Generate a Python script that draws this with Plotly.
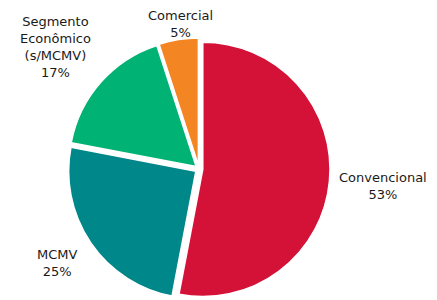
import plotly.graph_objects as go

labels = ["Convencional", "MCMV", "Segmento<br>Econômico<br>(s/MCMV)", "Comercial"]
values = [53, 25, 17, 5]
colors = ["#D41137", "#008789", "#00B273", "#F38623"]
pulls = [0.03, 0.03, 0.03, 0.03]

# The page body has an 8px default margin, so the figure is sized to the
# visible area and positions below are in figure pixels.
W, H = 429, 292
label_px = [(375, 178.5), (49, 254.5), (47, 38.5), (172, 15.5)]

fig = go.Figure(go.Pie(
    labels=labels,
    values=values,
    sort=False,
    direction="clockwise",
    rotation=0,
    pull=pulls,
    marker=dict(colors=colors, line=dict(color="white", width=1.5)),
    textinfo="none",
    domain=dict(x=[60 / W, 322 / W], y=[0, 262 / H]),
    showlegend=False,
    hoverinfo="skip",
))

total = sum(values)
for lab, v, (px, py) in zip(labels, values, label_px):
    fig.add_annotation(
        x=px / W, y=1 - py / H, xref="paper", yref="paper",
        text=f"{lab}<br>{round(100 * v / total)}%",
        showarrow=False, align="center",
        xanchor="center", yanchor="middle",
        font=dict(family="DejaVu Sans", size=13, color="#1a1a1a"),
    )

fig.update_layout(
    width=W, height=H,
    margin=dict(l=0, r=0, t=0, b=0),
    paper_bgcolor="white",
    plot_bgcolor="white",
)

fig.write_html("out.html")
